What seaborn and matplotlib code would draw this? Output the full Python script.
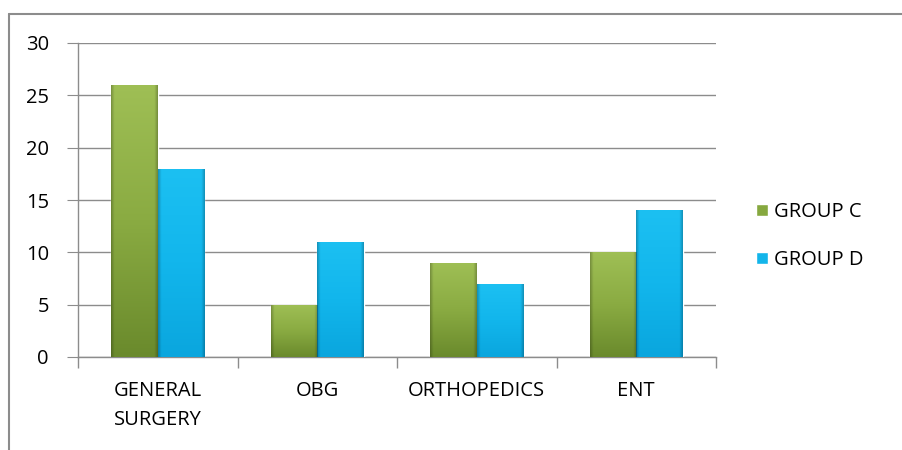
import matplotlib
matplotlib.use("Agg")
import matplotlib.pyplot as plt
import seaborn as sns
import pandas as pd
import numpy as np
from matplotlib.lines import Line2D
from matplotlib.colors import LinearSegmentedColormap

categories = ["GENERAL\nSURGERY", "OBG", "ORTHOPEDICS", "ENT"]
group_c = [26, 5, 9, 10]
group_d = [18, 11, 7, 14]
groups = ["GROUP C", "GROUP D"]
colors = {"GROUP C": "#86a83f", "GROUP D": "#13b5ea"}

df = pd.DataFrame({
    "dept": categories * 2,
    "count": group_c + group_d,
    "group": [groups[0]] * 4 + [groups[1]] * 4,
})

sns.set_style("white")
plt.rcParams["font.family"] = ["Open Sans", "DejaVu Sans"]
plt.rcParams["text.color"] = "black"
plt.rcParams["xtick.labelcolor"] = "black"
plt.rcParams["ytick.labelcolor"] = "black"
FS = 14.5

fig = plt.figure(figsize=(9.02, 4.5), dpi=100)
ax = fig.add_axes([78 / 902, (450 - 357) / 450, (716 - 78) / 902, (357 - 43) / 450])

sns.barplot(data=df, x="dept", y="count", hue="group", palette=colors,
            width=0.58, ax=ax, saturation=1, legend=True, zorder=3)

# gradient overlay
cmaps = {
    "GROUP C": LinearSegmentedColormap.from_list("g", ["#6a8a2c", "#8aab42", "#9fbf55"]),
    "GROUP D": LinearSegmentedColormap.from_list("b", ["#0aa6de", "#12b6ec", "#1cc0f2"]),
}
for gi, cont in enumerate(ax.containers):
    g = groups[gi]
    for p in cont:
        x0, y0 = p.get_x(), p.get_y()
        w, h = p.get_width(), p.get_height()
        grad = np.linspace(0, 1, 256).reshape(-1, 1)
        im = ax.imshow(grad, extent=[x0, x0 + w, y0, y0 + h], origin="lower",
                       cmap=cmaps[g], aspect="auto", zorder=3.5)
        im.set_clip_path(p)
        sh = np.concatenate([np.linspace(0.25, 0, 20), np.zeros(216), np.linspace(0, 0.25, 20)]).reshape(1, -1)
        rgba = np.zeros((1, 256, 4))
        rgba[..., 3] = sh
        im2 = ax.imshow(rgba, extent=[x0, x0 + w, y0, y0 + h], aspect="auto", zorder=3.6)
        im2.set_clip_path(p)

ax.set_ylim(0, 30)
ax.set_xlim(-0.5, 3.5)
ax.set_yticks(range(0, 31, 5))
ax.yaxis.grid(True, color="#8c8c8c", linewidth=1)
ax.set_axisbelow(True)
ax.set_xlabel("")
ax.set_ylabel("")

for s in ["top", "right"]:
    ax.spines[s].set_visible(False)
for s in ["left", "bottom"]:
    ax.spines[s].set_color("#8c8c8c")
    ax.spines[s].set_linewidth(1)

ax.tick_params(axis="y", length=8, color="#8c8c8c", pad=13, labelsize=FS, left=True,
               labelcolor="black")
ax.tick_params(axis="x", which="major", length=0, pad=17, labelsize=FS, labelcolor="black")
ax.set_xticks(np.arange(-0.5, 3.6, 1), minor=True)
ax.tick_params(axis="x", which="minor", length=8, color="#8c8c8c", bottom=True, width=1)
for lbl in ax.get_xticklabels():
    lbl.set_verticalalignment("top")
    lbl.set_linespacing(1.65)

leg = ax.legend(loc="center left", bbox_to_anchor=(1.035, 0.385), frameon=False,
                fontsize=FS, handlelength=0.55, handleheight=0.55,
                handletextpad=0.3, labelspacing=1.4)
for t in leg.get_texts():
    t.set_color("black")

# outer frame
fig.add_artist(Line2D([8.5 / 902, 8.5 / 902], [0, 1 - 13.5 / 450], color="#8c8c8c", lw=1.5,
                      transform=fig.transFigure))
fig.add_artist(Line2D([8.5 / 902, 1], [1 - 13.5 / 450, 1 - 13.5 / 450], color="#8c8c8c", lw=1.5,
                      transform=fig.transFigure))

fig.savefig("out.png", dpi=100)
